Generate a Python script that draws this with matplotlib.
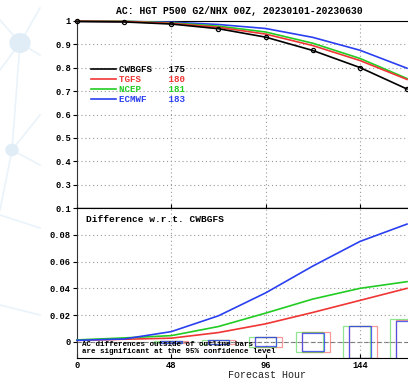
import numpy as np
import matplotlib
matplotlib.use('Agg')
import matplotlib.pyplot as plt
from matplotlib.patches import Rectangle, Circle
from matplotlib.lines import Line2D

TITLE = 'AC: HGT P500 G2/NHX 00Z, 20230101-20230630'

hours = [0, 24, 48, 72, 96, 120, 144, 168]
models = ['CWBGFS', 'TGFS', 'NCEP', 'ECMWF']
scores = ['175', '180', '181', '183']
colors = ['black', '#f03535', '#22cc22', '#2a3ff0']

ac_cwbgfs = [0.998, 0.996, 0.987, 0.967, 0.931, 0.874, 0.801, 0.709]
ac_tgfs = [0.999, 0.998, 0.990, 0.973, 0.944, 0.895, 0.831, 0.750]
ac_ncep = [0.999, 0.999, 0.992, 0.978, 0.953, 0.905, 0.840, 0.754]
ac_ecmwf = [0.999, 0.998, 0.995, 0.985, 0.968, 0.930, 0.875, 0.798]

diff_tgfs = [0.0012, 0.002, 0.0028, 0.007, 0.0135, 0.022, 0.031, 0.040]
diff_ncep = [0.0015, 0.003, 0.0047, 0.0115, 0.0215, 0.032, 0.040, 0.045]
diff_ecmwf = [0.0012, 0.0022, 0.0077, 0.0195, 0.0366, 0.0566, 0.075, 0.088]

# half width of the 95% confidence bars
ci_hours = [48, 72, 96, 120, 144, 168]
ci_tgfs = [0.0008, 0.0016, 0.0036, 0.0072, 0.0118, 0.0165]
ci_ncep = [0.0008, 0.0017, 0.0037, 0.0073, 0.0122, 0.0172]
ci_ecmwf = [0.0007, 0.0015, 0.0034, 0.0070, 0.0118, 0.0160]

W, H = 408, 379
fig = plt.figure(figsize=(W / 100, H / 100), dpi=100)
fig.patch.set_facecolor('white')

# faint network decoration on the left
deco = '#eaf3fa'
for (x0, y0, x1, y1) in [(20, 43, 40, 8), (20, 43, 40, 55), (20, 43, 0, 70), (20, 43, 0, 20),
                         (12, 150, 40, 165), (12, 150, 40, 115), (12, 150, 0, 210),
                         (20, 43, 12, 150), (0, 215, 40, 228), (0, 305, 40, 315)]:
    fig.add_artist(Line2D([x0 / W, x1 / W], [1 - y0 / H, 1 - y1 / H], color=deco, lw=1.2,
                          transform=fig.transFigure, zorder=0))
for (cx, cy, r) in [(20, 43, 10), (12, 150, 6)]:
    fig.add_artist(Circle((cx / W, 1 - cy / H), r / W, color='#e0edf7',
                          transform=fig.transFigure, zorder=0))

left = 77 / W
right = 1.0
ax1 = fig.add_axes([left, 1 - 208 / H, right - left, (208 - 21) / H])
ax2 = fig.add_axes([left, 1 - 358 / H, right - left, (358 - 208) / H])

mono = 'Liberation Mono'

for ax in (ax1, ax2):
    ax.set_xlim(0, 168.5)
    ax.set_xticks([0, 48, 96, 144])
    ax.grid(True, color='#9a9a9a', ls=(0, (1, 2.5)), lw=0.8)
    ax.spines['right'].set_visible(False)
    ax.spines['left'].set_color('#333333')
    ax.tick_params(axis='y', direction='out', length=3, width=0.8, pad=1.5,
                   labelsize=6.3)
    ax.tick_params(axis='x', direction='in', length=3, width=0.8, pad=2, labelsize=6.3)

ax1.set_ylim(0.2, 1.0)
ax1.set_yticks([0.3, 0.4, 0.5, 0.6, 0.7, 0.8, 0.9, 1.0])
ax1.set_yticklabels(['0.3', '0.4', '0.5', '0.6', '0.7', '0.8', '0.9', '1'],
                    fontfamily=mono, fontweight='bold')
ax1.tick_params(axis='x', labelbottom=False)
ax1.spines['bottom'].set_linewidth(1.0)

ac_all = [ac_cwbgfs, ac_tgfs, ac_ncep, ac_ecmwf]
for name, sc, col, vals in reversed(list(zip(models, scores, colors, ac_all))):
    ax1.plot(hours, vals, color=col, lw=1.2, clip_on=False, zorder=3)
ax1.plot(hours, ac_cwbgfs, ls='none', marker='o', ms=3, mfc='none', mec='black',
         mew=0.9, clip_on=False, zorder=4)

# legend drawn by hand in GrADS style
for i, (name, sc, col) in enumerate(zip(models, scores, colors)):
    y = 1 - (69 + 10 * i) / H
    fig.add_artist(Line2D([91 / W, 116 / W], [y, y], color=col, lw=1.2,
                          transform=fig.transFigure))
    gap = ' ' * (9 - len(name))
    fig.text(119 / W, y, name + gap + sc, color=col, fontsize=6.6, fontfamily=mono,
             fontweight='bold', va='center', ha='left')

fig.text(239 / W, 1 - 11 / H, TITLE, fontsize=7, fontfamily=mono, fontweight='bold',
         ha='center', va='center')

ax2.set_ylim(-0.012, 0.1)
ax2.set_yticks([0, 0.02, 0.04, 0.06, 0.08, 0.1])
ax2.set_yticklabels(['0', '0.02', '0.04', '0.06', '0.08', '0.1'],
                    fontfamily=mono, fontweight='bold')
ax2.set_xticklabels(['0', '48', '96', '144'], fontfamily=mono, fontweight='bold')
ax2.axhline(0, color='#777777', lw=0.8, ls=(0, (4, 2)), zorder=1)

box_w = 14.0
offsets = [1.6, -1.6, 0.0]
widths = [box_w, box_w, box_w - 3]
ci_all = [ci_tgfs, ci_ncep, ci_ecmwf]
for k, (ci, col) in enumerate(zip(ci_all, colors[1:])):
    for h, c in zip(ci_hours, ci):
        xc = h + offsets[k]
        ax2.add_patch(Rectangle((xc - widths[k] / 2, -c), widths[k], 2 * c, fill=False,
                                ec=col, lw=0.9, alpha=0.5 if k < 2 else 0.8, zorder=2))

diff_all = [diff_tgfs, diff_ncep, diff_ecmwf]
for vals, col in zip(diff_all, colors[1:]):
    ax2.plot(hours, vals, color=col, lw=1.2, clip_on=False, zorder=3)

fig.text(86 / W, 1 - 220 / H, 'Difference w.r.t. CWBGFS', fontsize=6.8, fontfamily=mono,
         fontweight='bold', va='center')
fig.text(82 / W, 1 - 344 / H, 'AC differences outside of outline bars', fontsize=5.4,
         fontfamily=mono, fontweight='bold', va='center')
fig.text(82 / W, 1 - 351.7 / H, 'are significant at the 95% confidence level',
         fontsize=5.4, fontfamily=mono, fontweight='bold', va='center')

fig.text(267 / W, 1 - 375 / H, 'Forecast Hour', fontsize=7.2, fontfamily=mono,
         ha='center', va='center', color='#222222')

fig.savefig('out.png', dpi=100)
